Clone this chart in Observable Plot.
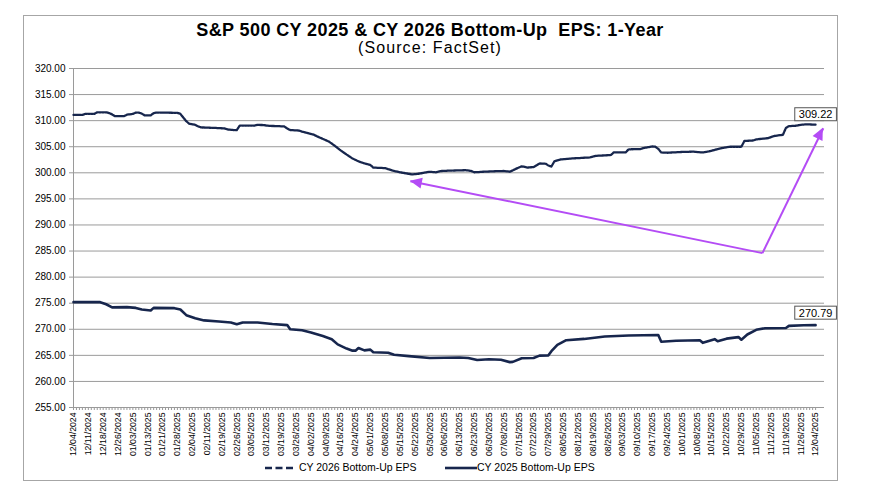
<!DOCTYPE html>
<html><head><meta charset="utf-8">
<script src="https://cdn.jsdelivr.net/npm/d3@7"></script>
<script src="https://cdn.jsdelivr.net/npm/@observablehq/plot@0.6"></script>
<style>
body{margin:0;background:#fff;font-family:"Liberation Sans",Arial,sans-serif;color:#000;}
#wrap{position:relative;width:873px;height:493px;overflow:hidden;}
#frame{position:absolute;left:23px;top:15px;width:815px;height:466px;border:1px solid #a6a6a6;box-sizing:border-box;}
#title{position:absolute;left:0;width:860px;top:20px;text-align:center;font-weight:bold;font-size:18px;letter-spacing:0.4px;line-height:21px;}
#sub{position:absolute;left:0;width:860px;top:38px;text-align:center;font-size:16px;letter-spacing:1.1px;line-height:20px;}
#chart{position:absolute;left:0;top:0;}
.leg{position:absolute;top:460px;font-size:10.5px;line-height:14px;white-space:nowrap;}
.leg svg{vertical-align:middle;}
</style>
</head><body>
<div id="wrap">
  <div id="frame"></div>
  <div id="chart"></div>
  <div id="title">S&amp;P 500 CY 2025 &amp; CY 2026 Bottom-Up&nbsp; EPS: 1-Year</div>
  <div id="sub">(Source: FactSet)</div>
  <div class="leg" style="left:264px"><svg width="32" height="6"><line x1="1" y1="3" x2="31" y2="3" stroke="#17264d" stroke-width="2.6" stroke-dasharray="7,3.5"/></svg> CY 2026 Bottom-Up EPS</div>
  <div class="leg" style="left:445px"><svg width="32" height="6"><line x1="0" y1="3" x2="32" y2="3" stroke="#17264d" stroke-width="2.6"/></svg>CY 2025 Bottom-Up EPS</div>
</div>
<script>
const xLabels = ["12/04/2024","12/11/2024","12/18/2024","12/26/2024","01/03/2025","01/13/2025","01/21/2025","01/28/2025",
"02/04/2025","02/11/2025","02/19/2025","02/26/2025","03/05/2025","03/12/2025","03/19/2025","03/26/2025",
"04/02/2025","04/09/2025","04/16/2025","04/24/2025","05/01/2025","05/08/2025","05/15/2025","05/22/2025","05/30/2025",
"06/06/2025","06/13/2025","06/23/2025","06/30/2025","07/08/2025","07/15/2025","07/22/2025","07/29/2025",
"08/05/2025","08/12/2025","08/19/2025","08/26/2025","09/03/2025","09/10/2025","09/17/2025","09/24/2025",
"10/01/2025","10/08/2025","10/15/2025","10/22/2025","10/29/2025","11/05/2025","11/12/2025","11/19/2025","11/26/2025","12/04/2025"];
const yTicks = [255,260,265,270,275,280,285,290,295,300,305,310,315,320];

// CY 2026 (day index from 12/04/2024, value)
const idx2026 = [0,3,4,7,8,11,12,13,14,17,18,20,21,22,23,24,26,27,28,35,36,37,38,39,41,42,43,48,51,52,54,55,56,61,62,64,66,71,72,73,76,77,79,81,82,84,86,88,90,92,94,96,98,100,101,105,106,108,110,112,114,116,118,120,122,124,126,129,132,134,135,138,142,145,147,149,151,153,155,157,159,160,161,162,164,168,174,176,181,182,186,187,191,192,195,196,197,198,200,205,209,212,214,217,219,221,225,226,229,230,234,236,239,240,241,243,245,247,250];
const eps2026 = [311.1,311.1,311.3,311.3,311.6,311.6,311.45,311.2,310.85,310.85,311.15,311.3,311.55,311.55,311.35,311.0,311.0,311.45,311.55,311.5,311.3,310.6,309.9,309.4,309.2,308.9,308.7,308.6,308.5,308.3,308.2,308.2,309.05,309.05,309.2,309.15,309.0,308.9,308.5,308.2,308.1,307.9,307.6,307.3,307.0,306.5,306.0,305.2,304.3,303.5,302.75,302.2,301.8,301.5,301.0,300.9,300.7,300.35,300.1,299.9,299.7,299.8,300.0,300.2,300.1,300.35,300.4,300.45,300.5,300.35,300.1,300.2,300.3,300.35,300.2,300.75,301.25,301.0,301.1,301.8,301.75,301.4,301.2,302.2,302.55,302.75,302.95,303.25,303.4,303.9,303.9,304.5,304.55,304.75,305.05,305.0,304.6,303.9,303.85,304.0,304.05,303.9,304.1,304.55,304.8,305.0,305.0,306.1,306.2,306.4,306.65,307.05,307.3,308.6,308.95,309.0,309.2,309.3,309.22];

// CY 2025
const idx2025 = [0,9,11,13,18,21,23,26,27,34,36,38,41,44,49,53,55,57,62,67,72,73,77,80,84,87,89,92,94,95,96,98,100,101,106,108,113,120,130,133,136,140,144,147,148,151,155,157,160,161,163,166,172,179,187,197,198,203,211,212,216,217,220,224,225,227,230,233,240,241,246,250];
const eps2025 = [275.2,275.2,274.8,274.2,274.25,274.1,273.8,273.6,274.1,274.05,273.8,272.7,272.1,271.7,271.5,271.3,270.95,271.3,271.3,271.0,270.8,270.0,269.8,269.4,268.7,268.1,267.1,266.3,265.9,265.9,266.4,265.95,266.1,265.6,265.5,265.1,264.85,264.5,264.6,264.5,264.1,264.25,264.15,263.7,263.75,264.45,264.5,264.95,265.0,265.8,267.0,267.9,268.15,268.6,268.8,268.9,267.6,267.8,267.9,267.4,268.1,267.7,268.2,268.5,268.0,269.0,269.9,270.2,270.25,270.65,270.76,270.79];

// annotation arrows (index, value)
const arrowFrom = {i: 232.1, v: 284.6};
const arrowTo = [{i: 113.5, v: 298.4}, {i: 252.6, v: 308.55}];

const s2026 = idx2026.map((i, k) => ({i, v: eps2026[k]}));
const s2025 = idx2025.map((i, k) => ({i, v: eps2025[k]}));
const endLabels = [
  {i: idx2026[idx2026.length-1], v: eps2026[eps2026.length-1], dy: -10},
  {i: idx2025[idx2025.length-1], v: eps2025[eps2025.length-1], dy: -12}
];
const arrows = arrowTo.map(t => ({x1: arrowFrom.i, y1: arrowFrom.v, x2: t.i, y2: t.v}));

const navy = "#17264d";
const purple = "#b44cf5";

const plot = Plot.plot({
  width: 873, height: 493,
  marginTop: 68, marginBottom: 86, marginLeft: 73, marginRight: 49,
  style: {fontFamily: "'Liberation Sans', Arial, sans-serif", fontSize: "10px", color: "#000", background: "transparent"},
  x: {domain: [0, 253]},
  y: {domain: [255, 320]},
  marks: [
    Plot.gridY(yTicks, {stroke: "#9a9a9a", strokeOpacity: 1, strokeWidth: 1}),
    Plot.ruleX([0], {stroke: "#9a9a9a", strokeWidth: 1}),
    Plot.axisY(yTicks, {tickSize: 4, tickPadding: 4, tickFormat: d => d.toFixed(2), stroke: "#9a9a9a", fontSize: 10, label: null}),
    Plot.axisX(d3.range(0, 251), {tickSize: 3, tickFormat: () => "", stroke: "#9a9a9a", label: null}),
    Plot.axisX(d3.range(0, 251, 5), {tickSize: 0, tickPadding: 5, tickRotate: -90, tickFormat: d => xLabels[d / 5], fontSize: 8.7, label: null}),
    Plot.line(s2025, {x: "i", y: "v", stroke: navy, strokeWidth: 2.6}),
    Plot.line(s2026, {x: "i", y: "v", stroke: navy, strokeWidth: 2.3, strokeDasharray: "2,0.9"}),
    Plot.link(arrows, {x1: "x1", y1: "y1", x2: "x2", y2: "y2", stroke: purple, strokeWidth: 2, className: "alink"}),
    Plot.text(endLabels, {x: "i", y: "v", text: d => d.v.toFixed(2), fontSize: 11, className: "vlab", fill: "#000"})
  ]
});
document.getElementById("chart").appendChild(plot);

const NS = "http://www.w3.org/2000/svg";
// filled arrowheads at the arrow tips, placed with the plot's own scales
const sx = plot.scale("x"), sy = plot.scale("y");
const headG = document.createElementNS(NS, "g");
arrows.forEach(a => {
  const x1 = sx.apply(a.x1), y1 = sy.apply(a.y1), x2 = sx.apply(a.x2), y2 = sy.apply(a.y2);
  const len = Math.hypot(x2 - x1, y2 - y1), ux = (x2 - x1) / len, uy = (y2 - y1) / len;
  const L = 12, W = 5.5;
  const bx = x2 - ux * L, by = y2 - uy * L;
  const p = document.createElementNS(NS, "polygon");
  p.setAttribute("points", `${x2},${y2} ${bx - uy * W},${by + ux * W} ${bx + uy * W},${by - ux * W}`);
  p.setAttribute("fill", purple);
  headG.appendChild(p);
});
plot.appendChild(headG);

// shift labels up and add boxes around them
plot.querySelectorAll(".vlab text").forEach((t, k) => {
  const dy = endLabels[k].dy;
  const tr = t.getAttribute("transform") || "";
  t.setAttribute("transform", tr + ` translate(0,${dy})`);
  const b = t.getBBox();
  const r = document.createElementNS(NS, "rect");
  r.setAttribute("x", b.x - 4); r.setAttribute("y", b.y - 0.5);
  r.setAttribute("width", b.width + 8); r.setAttribute("height", b.height + 1);
  r.setAttribute("fill", "#fff"); r.setAttribute("stroke", "#555"); r.setAttribute("stroke-width", "1");
  r.setAttribute("transform", t.getAttribute("transform") || "");
  t.parentNode.insertBefore(r, t);
});
</script>
</body></html>
